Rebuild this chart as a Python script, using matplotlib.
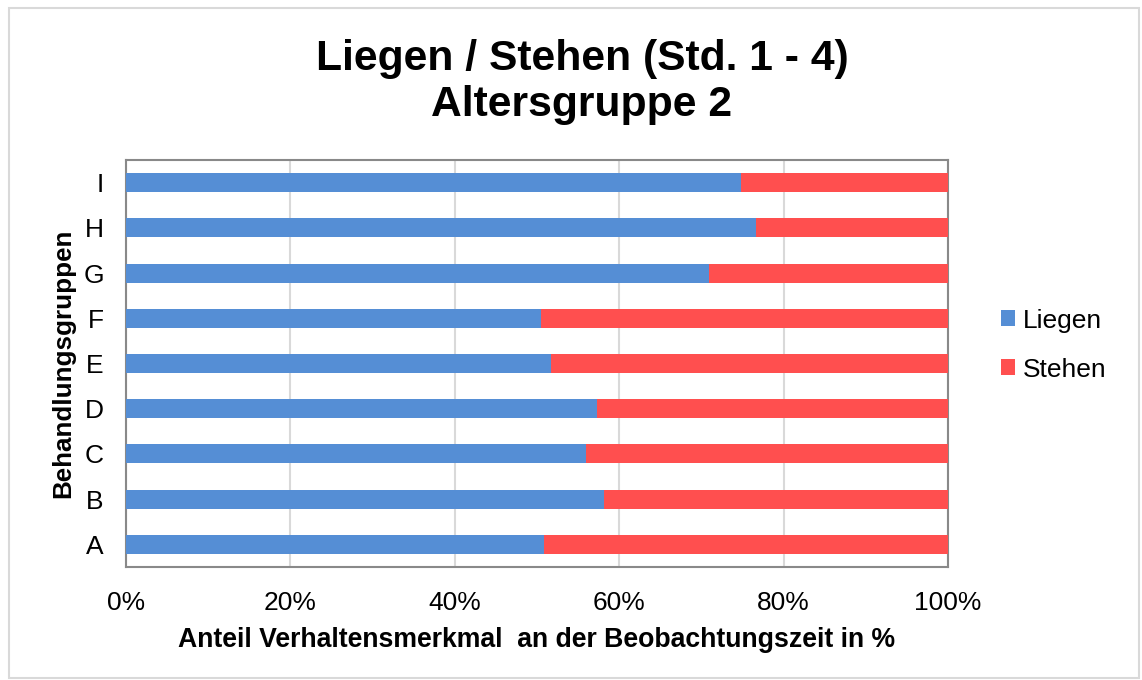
import numpy as np
import matplotlib.pyplot as plt
from matplotlib.patches import Rectangle
from matplotlib.ticker import PercentFormatter

plt.rcParams['font.family'] = ['Liberation Sans', 'DejaVu Sans']

groups = ['A', 'B', 'C', 'D', 'E', 'F', 'G', 'H', 'I']
liegen = [50.8, 58.2, 56.0, 57.3, 51.7, 50.5, 70.9, 76.6, 74.8]
stehen = [100 - v for v in liegen]

blue = '#558ed5'
red = '#ff4f4f'

fig = plt.figure(figsize=(11.42, 6.8), dpi=100)
ax = fig.add_axes([126/1142, 1 - 567/680, (948 - 126)/1142, (567 - 160)/680])

y = np.arange(len(groups))
ax.barh(y, liegen, height=0.42, color=blue, label='Liegen', zorder=3)
ax.barh(y, stehen, left=liegen, height=0.42, color=red, label='Stehen', zorder=3)

ax.set_xlim(0, 100)
ax.set_ylim(-0.5, len(groups) - 0.5)
ax.set_yticks(y)
ax.set_yticklabels(groups)
ax.set_xticks(np.arange(0, 101, 20))
ax.xaxis.set_major_formatter(PercentFormatter(decimals=0))
ax.tick_params(axis='both', labelsize=19, length=0)
ax.tick_params(axis='x', pad=17)
ax.tick_params(axis='y', pad=16)
ax.grid(axis='x', color='#d9d9d9', linewidth=1.5, zorder=0)
for s in ax.spines.values():
    s.set_color('#898989')
    s.set_linewidth(1.5)

ax.set_xlabel('Anteil Verhaltensmerkmal  an der Beobachtungszeit in %',
              fontsize=19.2, fontweight='bold', labelpad=9)
ax.set_ylabel('Behandlungsgruppen', fontsize=18.7, fontweight='bold', labelpad=6)

fig.text(582/1142, 1 - 82/680, 'Liegen / Stehen (Std. 1 - 4)\nAltersgruppe 2',
         ha='center', va='center', fontsize=30.7, fontweight='bold', linespacing=1.2)

ax.legend(loc='center left', bbox_to_anchor=(1.035, 0.545), frameon=False,
          fontsize=19, handlelength=0.55, handleheight=0.55, handletextpad=0.3,
          labelspacing=0.95)

fig.patches.append(Rectangle((9/1142, 0.003), 1 - 9/1142 - 0.003, 1 - 8/680 - 0.003,
                             transform=fig.transFigure, fill=False,
                             edgecolor='#d9d9d9', linewidth=1.5))

fig.savefig('out.png', dpi=100)
